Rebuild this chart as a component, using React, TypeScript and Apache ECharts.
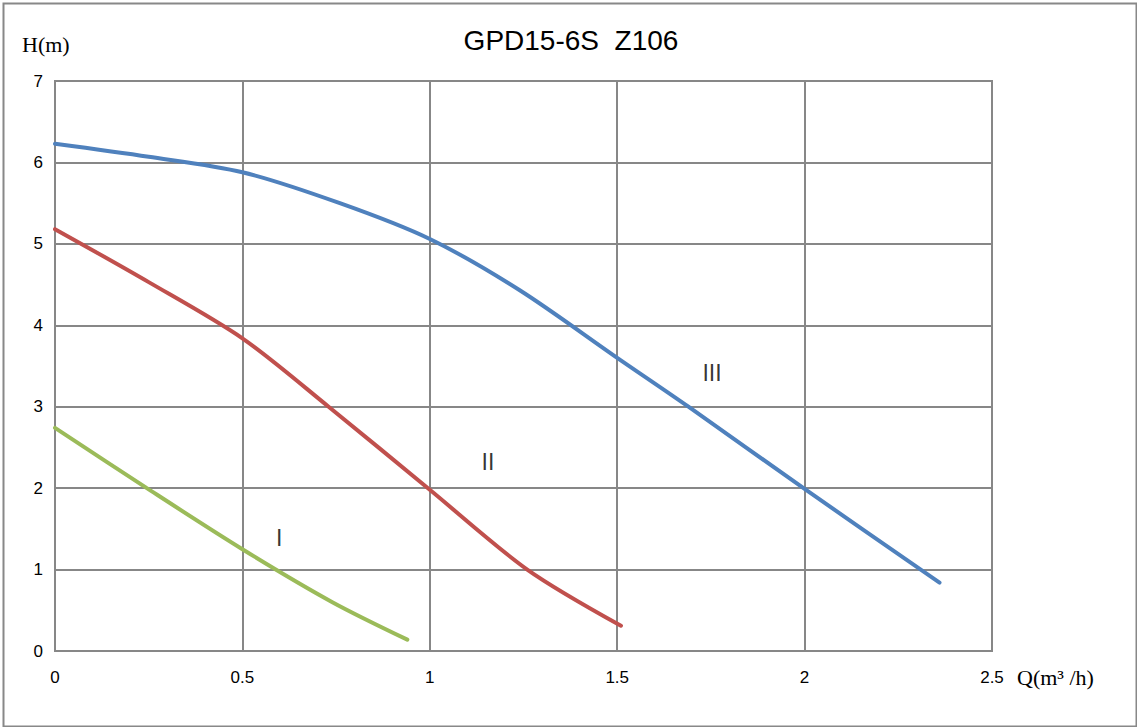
import React, { useEffect, useRef } from "react";
import * as echarts from "echarts";

const title = "GPD15-6S  Z106";
const yAxisName = "H(m)";
const xAxisName = "Q(m³ /h)";

const curveIII: [number, number][] = [
  [0, 6.23], [0.25, 6.07], [0.5, 5.88], [0.76, 5.5], [1.0, 5.06],
  [1.24, 4.43], [1.5, 3.6], [1.69, 3.0], [2.0, 1.99], [2.36, 0.84],
];
const curveII: [number, number][] = [
  [0, 5.18], [0.25, 4.53], [0.5, 3.84], [0.73, 3.0],
  [1.0, 1.98], [1.26, 1.0], [1.51, 0.31],
];
const curveI: [number, number][] = [
  [0, 2.74], [0.245, 2.0], [0.5, 1.25], [0.74, 0.6], [0.94, 0.14],
];
const curveLabels: [number, number, string][] = [
  [0.598, 1.39, "I"],
  [1.155, 2.32, "II"],
  [1.753, 3.41, "III"],
];

const colors = ["#4F81BD", "#C0504D", "#9BBB59"];

export default function App() {
  const ref = useRef<HTMLDivElement>(null);
  useEffect(() => {
    if (!ref.current) return;
    const chart = echarts.init(ref.current, null, { renderer: "svg" });
    const gridColor = "#878787";
    const sans = "'Liberation Sans', Arial, sans-serif";
    const serif = "'Liberation Serif', 'DejaVu Serif', serif";
    const mkLine = (data: [number, number][], color: string) => ({
      type: "line",
      data,
      smooth: 0.3,
      showSymbol: false,
      symbol: "none",
      lineStyle: { color, width: 4, cap: "round" },
      itemStyle: { color },
    });
    chart.setOption({
      animation: false,
      backgroundColor: "#ffffff",
      grid: {
        left: 55,
        right: 145,
        top: 81,
        bottom: 76,
        show: true,
        borderColor: gridColor,
        borderWidth: 2,
        backgroundColor: "transparent",
      },
      xAxis: {
        type: "value",
        min: 0,
        max: 2.5,
        interval: 0.5,
        axisLine: { show: false },
        axisTick: { show: false },
        splitLine: { show: true, lineStyle: { color: gridColor, width: 2 } },
        axisLabel: { color: "#000", fontSize: 17, fontFamily: sans, margin: 18 },
      },
      yAxis: {
        type: "value",
        min: 0,
        max: 7,
        interval: 1,
        axisLine: { show: false },
        axisTick: { show: false },
        splitLine: { show: true, lineStyle: { color: gridColor, width: 2 } },
        axisLabel: { color: "#000", fontSize: 17, fontFamily: sans, margin: 12 },
      },
      series: [
        mkLine(curveIII, colors[0]),
        mkLine(curveII, colors[1]),
        mkLine(curveI, colors[2]),
        {
          type: "scatter",
          data: curveLabels,
          symbolSize: 0,
          silent: true,
          label: {
            show: true,
            position: "inside",
            formatter: (p: any) => p.value[2],
            color: "#000",
            fontSize: 23,
            fontFamily: sans,
          },
        },
      ],
      graphic: [
        {
          type: "rect",
          left: 1,
          top: 1,
          shape: { width: 1133, height: 723 },
          style: { fill: "none", stroke: "#888888", lineWidth: 2 },
          silent: true,
        },
        {
          type: "text",
          x: 571,
          y: 40,
          style: {
            text: title,
            fill: "#000",
            font: `28px ${sans}`,
            textAlign: "center",
            textVerticalAlign: "middle",
          },
        },
        {
          type: "text",
          x: 22,
          y: 44,
          style: {
            text: yAxisName,
            fill: "#000",
            font: `22px ${serif}`,
            textAlign: "left",
            textVerticalAlign: "middle",
          },
        },
        {
          type: "text",
          x: 1017,
          y: 677,
          style: {
            text: xAxisName,
            fill: "#000",
            font: `22px ${serif}`,
            textAlign: "left",
            textVerticalAlign: "middle",
          },
        },
      ],
    });
    return () => chart.dispose();
  }, []);
  return (
    <div
      ref={ref}
      style={{ position: "fixed", left: 0, top: 0, width: 1137, height: 727, background: "#fff" }}
    />
  );
}
